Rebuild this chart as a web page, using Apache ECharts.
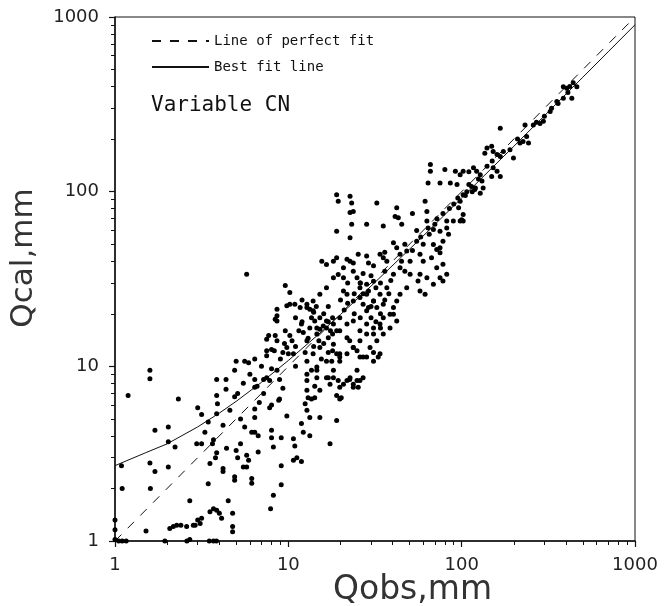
<!DOCTYPE html>
<html>
<head>
<meta charset="utf-8">
<script src="https://cdn.jsdelivr.net/npm/echarts@6/dist/echarts.min.js"></script>
<style>html,body{margin:0;padding:0;background:#fff}#c{width:664px;height:606px}</style>
</head>
<body>
<div id="c"></div>
<script>
// Observed runoff (Qobs, mm) and calculated runoff (Qcal, mm)
const qobs = [
5.75,1.19,1.59,1.59,2.32,1.09,1.1,1.7,2.03,2.03,1.59,1.7,2.03,1.6,3.0,3.16,3.86,4.37,3.86,4.37,4.9,5.1,3.9,3.86,3.45,2.96,3.16,2.22,3.7,3.65,3.86,3.8,3.53,3.45,2.7,4.5,3.7,3.86,4.0,3.0,3.1,2.9,2.17,2.27,2.4,2.07,4.77,4.77,4.77,1.51,
1.05,1.1,1.16,1.94,2.6,2.7,3.5,3.7,3.85,5.0,5.1,5.75,5.9,5.75,5.5,4.9,4.9,6.15,6.15,6.4,6.7,6.7,6.4,6.4,6.4,6.4,6.6,4.9,5.0,5.6,5.9,6.4,7.2,7.5,7.8,8.0,8.6,8.9,8.0,7.8,8.9,8.8,9.8,8.0,8.2,8.0,9.1,9.1,8.2,7.9,9.1,
10.7,10.9,10.7,11.2,11.9,11.9,12.2,13.3,12.5,12.8,13.3,15.2,17.4,19,12.8,13.0,13.6,14.2,14.2,15.2,14.6,12.8,13.6,14.6,17,17.4,19.4,19.8,20.2,22.6,23.7,25.3,25.9,19,19.8,
1,1,1,6.15,2.59,2.83,3.16,3.53,4.12,
9.6,10.2,8.6,8.6,9.8,10.2,10.9,11.7,8.6,8.4,7.5,7.7,8.4,8.6,7.5,8.3,9.6,10.2,9.8,10,10.7,11.9,12.2,12.8,13.6,14,13.3,14.2,14.6,15.2,15.9,16.6,17,18,19,18,19,19.8,17.8,
15.6,16.6,18.2,19,21.8,23.7,25.3,28.3,29,31,19.4,20.8,23.7,24.9,25.9,28.3,31,32,20.8,21.8,23.7,25.9,27,29,31,19.8,21.8,23.7,25.9,28.3,31,34,22.6,23.7,24.9,25.9,28.3,31,33,
386,404,462,432,386,354,324,296,259,283,232,167,237,226,217,243,199,190,174,167,160,152,149,140,136,167,160,152,149,140,
117,122,128,131,133,128,119,114,107,102,98,96,102,100,98,102,92,98,102,80,75,86,94,66,66,64,61.5,63,
19,19.4,22.7,23.2,22.7,23.7,32.4,42.2,41.3,43.1,45.1,28.3,23.2,19,22.7,35.3,
63,64,68.7,75,82,82,89.5,84,78,75,71.8,68.7,57.5,60,67,75,71.8,78,82,78,75,68.7,63,57.5,56,57.5,61.5,
40.4,42.2,44.1,48.2,50.4,44.1,40.4,37,35.3,33.8,
50.4,48.2,44.1,42.2,40.4,38.6,35.3,33.8,31,28.3,25.9,23.7,21.8,19.8,18.2,16.6,
22.7,20.8,18.2,16.6,15.2,13.9,12.8,28.3,31,33.8,37,32.4,35.3,28.3,40.4,42.2,38.6,35.3,32.4,29.6,33.8,31,27,24.9,22.7,20.8,27,23.7,
12.8,13.9,15.2,13.3,14.6,16.6,18.2,19.8,21.8,18.2,15.2,13.9,16.6,19.8,12.8,14.6,18.2,21.8,24.9,12.8,
300,330,360,410,440,420,210,270,150,120,110,55,52,47,36,30,26,17,11,9.3,5.3,4.2,
11,11.5,12,12.5,13,14,15,15.5,16,17,17.5,16,17,18,11,10.5,12,14.5,
21,22,24,26,27,29,30,32,34,36,38,26,24,30,34,36,39,22,20,27,
45,47,52,55,58,60,65,70,72,78,85,90,95,105,110,115,125,
5.5,6,7,7.5,8,9,9.5,6.8,7.2,9.3,
3.3,4.2,4.6,5.3,5.6,4.2,4.4
];
const qcal = [
33.7,6.8,9.5,8.5,6.5,2.7,2.0,4.3,4.5,3.7,2.8,2.5,2.65,2.0,5.8,5.3,8.4,8.4,6.8,7.4,6.7,7.0,6.1,5.35,4.8,3.6,3.6,3.45,3.8,3.6,3.2,3.0,2.78,2.13,1.7,1.7,1.53,1.5,1.44,1.32,1.26,1.23,1.21,1.23,1.23,1.18,1.44,1.21,1.13,1.14,
1.0,1.0,1.0,1.0,1.0,1.02,1.0,1.0,1.0,3.3,3.0,3.1,2.9,2.65,2.65,2.33,2.23,2.28,4.2,4.2,4.0,3.23,5.1,5.7,8.4,7.6,7.7,9.5,10.7,10.7,10.5,11,8.4,8.6,8.3,9.7,9.5,8.4,6.0,5.8,6.5,6.4,5.2,4.3,3.45,3.9,3.9,2.7,1.83,1.53,2.1,
3.85,3.5,2.9,3.0,2.85,4.7,4.2,4.0,6.1,5.6,5.1,5.1,3.6,4.9,7.3,6.6,6.5,6.6,7.7,7.3,8.6,9.0,9.5,9.9,8.6,7.9,8.3,7.6,6.6,8.4,7.9,7.6,8.3,6.8,6.5,
1.32,1.16,1.02,2.14,1.21,1.23,1.35,1.47,1.35,
29,26.5,21.2,19.5,22.2,22.7,22.7,21.7,18.2,18.6,14.3,15,15,14,12.3,12.3,16,15,12.8,11.8,11.8,17.5,15.6,14,19,20.4,21.2,18.2,16.6,16.3,17,18.2,14.6,15.3,16,12.3,11.8,11.3,10.7,
40,38.3,40,41.8,41,39,43.8,42.8,39,37.6,33.6,32.2,35,32.2,28.2,29.5,30.7,28.2,27,25.9,23.7,24.8,22.7,21.7,23.7,19,17.5,18.2,16,17.5,15.3,16.6,14,12.8,12.3,11.3,11.3,12,11.3,
399,391,399,343,343,328,288,253,241,246,241,231,207,194,190,190,156,174,170,159,163,170,182,178,166,122,131,137,122,140,
137,131,125,115,105,98,103,107,100,96,88,81,74,69,68,68,131,125,131,134,112,112,110,143,131,112,88,77,
96,88,94,86,76,77,86,81,72,71,65,65,65,59.4,54.4,63.5,
68,62,60.8,59.4,62,68,68,57,52,47.7,46.7,49.9,43.8,40,41.9,44.7,36.7,38.4,33.7,30.8,32.2,29.5,32.2,33.7,30.8,27,25.9,
51,47.7,43.8,45.7,40,36.7,33.7,40,41.9,43.8,
33.7,28.2,25.9,23.7,21.7,19.9,19,17.5,16.6,15.3,14,12.8,11.8,10.7,9.5,8.6,
40,36.7,32.2,28.2,25.9,23.7,21.7,25.9,23.7,25.9,28.2,21.7,22.7,20.8,19.9,18.2,16.6,15.3,14,12.8,11.8,10.7,11.3,9.5,8.6,7.9,8.6,7.6,
22.7,20.8,19,16.6,15.3,16.6,17.5,16,14.6,13.4,12.8,11.8,10.7,11.8,10.7,9.5,8.6,8.3,8.3,8.3,
270,300,320,370,420,400,200,250,150,105,130,60,75,35,45,22,30,18,10,12,3.6,2.6,
13,16,18,12,14.5,13,14,11,13.5,12,16,20,22,19,19,14,24,22,
21,23,20,19,26,27,19,18,20,24,26,30,26,33,30,35,31,30,24,34,
40,50,46,52,55,50,57,65,70,75,80,85,92,95,110,100,118,
8,9,10,11.5,12.5,11,13.5,6.2,7,7.5,
4.2,4.6,5.6,5,4.5,2.5,3.4
];
// Best fit line
const fitX = [1,1.5,2,3,4,5,7,10,15,20,30,50,70,100,200,300,500,700,1000];
const fitY = [2.7,3.2,3.6,4.5,5.4,6.3,8.1,10.8,15.3,19.8,28.8,46.8,64.8,92,182,272,452,632,902];
// Line of perfect fit
const perfX = [1,1000];
const perfY = [1,1000];
const tickLabels = ['1','10','100','1000'];

const scatterData = qobs.map((x,i)=>[x,qcal[i]]);
const fitData = fitX.map((x,i)=>[x,fitY[i]]);
const perfData = perfX.map((x,i)=>[x,perfY[i]]);

const axisCommon = {
  type:'log', logBase:10, min:1, max:1000,
  axisLine:{show:true,onZero:false,lineStyle:{color:'#111',width:1.5}},
  axisTick:{show:true,inside:false,length:6,lineStyle:{color:'#111',width:1.2}},
  minorTick:{show:true,splitNumber:9,length:4,lineStyle:{color:'#111',width:1}},
  splitLine:{show:false},
  minorSplitLine:{show:false},
  axisLabel:{color:'#222',fontFamily:'DejaVu Sans',fontSize:18,
    formatter:(v)=>{const i=Math.round(Math.log10(v));return tickLabels[i]!==undefined?tickLabels[i]:String(v);}}
};

const chart = echarts.init(document.getElementById('c'),null,{renderer:'canvas'});
chart.setOption({
  animation:false,
  backgroundColor:'#fff',
  grid:{left:115,right:29,top:17,bottom:65,show:true,borderColor:'#111',borderWidth:1,backgroundColor:'transparent'},
  xAxis:Object.assign({},axisCommon,{axisLabel:Object.assign({},axisCommon.axisLabel,{margin:15})}),
  yAxis:Object.assign({},axisCommon,{axisLabel:Object.assign({},axisCommon.axisLabel,{margin:16})}),
  title:{text:'Variable CN',left:146,top:90,textStyle:{fontFamily:'DejaVu Sans Mono',fontSize:21,fontWeight:'normal',color:'#111'}},
  legend:{
    orient:'vertical',left:146,top:29,itemWidth:57,itemHeight:14,itemGap:12,
    data:['Line of perfect fit','Best fit line'],
    itemStyle:{opacity:0},
    textStyle:{fontFamily:'DejaVu Sans Mono',fontSize:14,color:'#111'}
  },
  graphic:[
    {type:'text',left:333,top:574,style:{text:'Qobs,mm',fontFamily:'DejaVu Sans',fontSize:33,fill:'#333'}},
    {type:'text',rotation:Math.PI/2,style:{text:'Qcal,mm',fontFamily:'DejaVu Sans',fontSize:31,fill:'#333',align:'center',verticalAlign:'middle'},x:24,y:258}
  ],
  series:[
    {name:'Observed vs calculated',type:'scatter',data:scatterData,symbol:'circle',symbolSize:5,itemStyle:{color:'#000',opacity:1},z:3},
    {name:'Line of perfect fit',type:'line',data:perfData,symbol:'none',itemStyle:{color:'#111'},lineStyle:{color:'#111',width:1,type:[9,9]},z:2},
    {name:'Best fit line',type:'line',data:fitData,symbol:'none',smooth:false,itemStyle:{color:'#111'},lineStyle:{color:'#111',width:1,type:'solid'},z:2}
  ]
});
</script>
</body>
</html>
